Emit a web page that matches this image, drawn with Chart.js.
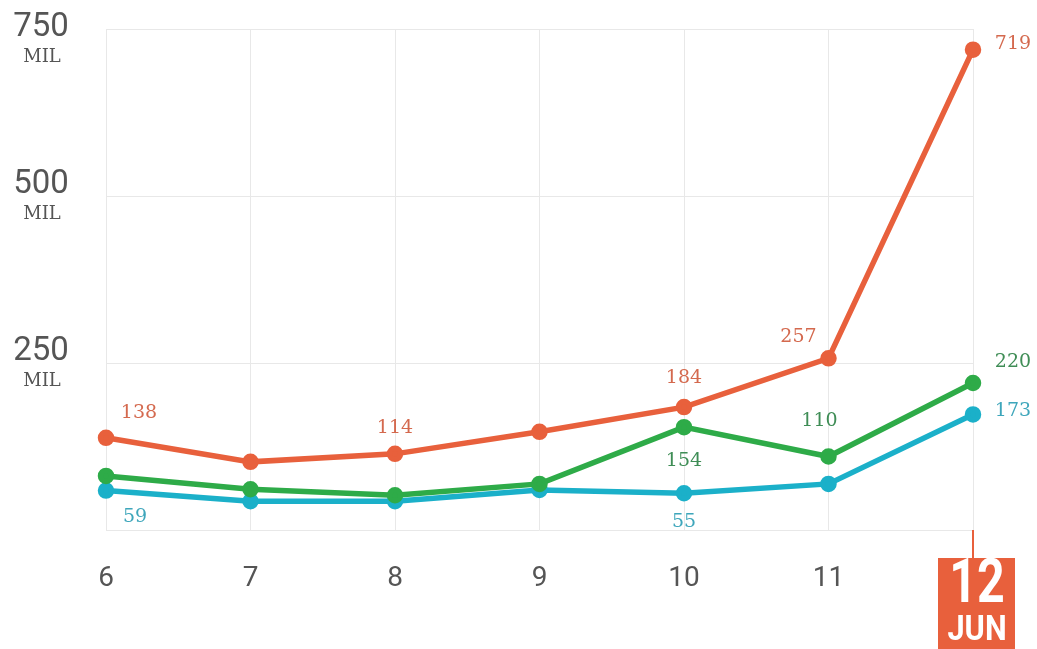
<!DOCTYPE html>
<html>
<head>
<meta charset="utf-8">
<script src="https://cdn.jsdelivr.net/npm/chart.js@4"></script>
<style>
  html, body { margin: 0; padding: 0; background: #fff; }
  #wrap { width: 1037px; height: 649px; }
</style>
</head>
<body>
<div id="wrap"><canvas id="chart" width="1037" height="649"></canvas></div>
<script>
// dias de junho
const days = ['6', '7', '8', '9', '10', '11', '12'];
const yTicks = [250, 500, 750];

// milhões
const seriesOrange = [138, 102, 114, 147, 184, 257, 719];
const seriesGreen = [81, 61, 52, 69, 154, 110, 220];
const seriesBlue = [59, 43, 43, 60, 55, 69, 173];

const colOrange = '#e8603c', colGreen = '#2eab48', colBlue = '#1bb0c9';
const txtOrange = '#d4694e', txtGreen = '#3f8d56', txtBlue = '#3ea6bb';

// rótulos visíveis: [dataset, índice, dx, dy]
const labelSpots = [
    [0, 0, 33, -25], [0, 2, 0, -26], [0, 4, 0, -29], [0, 5, -30, -21], [0, 6, 40, -6],
    [1, 4, 0, 34], [1, 5, -9, -35], [1, 6, 40, -21],
    [2, 0, 29, 26], [2, 4, 0, 29], [2, 6, 40, -3]
];
const labelColors = [txtOrange, txtGreen, txtBlue];

const overlay = {
    id: 'overlay',
    afterDatasetsDraw(chart) {
        const ctx = chart.ctx;
        const y = chart.scales.y, x = chart.scales.x;
        ctx.save();
        // valores
        ctx.font = '19px "DejaVu Serif"';
        ctx.textAlign = 'center';
        ctx.textBaseline = 'middle';
        labelSpots.forEach(([d, i, dx, dy]) => {
            const pt = chart.getDatasetMeta(d).data[i];
            ctx.fillStyle = labelColors[d];
            ctx.fillText(chart.data.datasets[d].data[i], pt.x + dx, pt.y + dy);
        });
        // eixo y
        ctx.fillStyle = '#555';
        yTicks.forEach(v => {
            const ny = Math.max(y.getPixelForValue(v) - 11, 28);
            ctx.font = '33px "Roboto"';
            ctx.fillText(v, 41, ny);
            ctx.font = '18px "DejaVu Serif"';
            ctx.fillText('MIL', 42, ny + 29);
        });
        // eixo x
        days.forEach((d, i) => {
            const px = x.getPixelForValue(i);
            if (i < days.length - 1) {
                ctx.fillStyle = '#555';
                ctx.font = '28px "Roboto"';
                ctx.fillText(d, px, 579);
            } else {
                ctx.strokeStyle = colOrange;
                ctx.lineWidth = 2;
                ctx.beginPath();
                ctx.moveTo(px, chart.chartArea.bottom);
                ctx.lineTo(px, 560);
                ctx.stroke();
                ctx.fillStyle = colOrange;
                ctx.fillRect(px - 35, 558, 77, 91);
                ctx.fillStyle = '#fff';
                ctx.save();
                ctx.translate(px + 4, 586);
                ctx.scale(0.78, 1);
                ctx.font = 'bold 62px "Roboto"';
                ctx.fillText(d, 0, 0);
                ctx.restore();
                ctx.save();
                ctx.translate(px + 4, 631);
                ctx.scale(0.88, 1);
                ctx.font = 'bold 35px "Roboto"';
                ctx.fillText('JUN', 0, 0);
                ctx.restore();
            }
        });
        ctx.restore();
    }
};

const mkSet = (data, color) => ({
    data: data,
    borderColor: color,
    backgroundColor: color,
    borderWidth: 5.5,
    pointRadius: 5.5,
    pointHoverRadius: 5.5,
    tension: 0
});

new Chart(document.getElementById('chart'), {
    type: 'line',
    data: {
        labels: days,
        datasets: [
            mkSet(seriesOrange, colOrange),
            mkSet(seriesGreen, colGreen),
            mkSet(seriesBlue, colBlue)
        ]
    },
    options: {
        responsive: false,
        animation: false,
        layout: {padding: {left: 106, right: 64, top: 29, bottom: 119}},
        plugins: {legend: {display: false}, tooltip: {enabled: false}},
        scales: {
            x: {
                offset: false,
                grid: {color: '#e8e8e8', drawTicks: false},
                border: {display: false},
                ticks: {display: false}
            },
            y: {
                min: 0, max: 750,
                ticks: {display: false, stepSize: 250},
                grid: {color: '#e8e8e8', drawTicks: false},
                border: {display: false}
            }
        }
    },
    plugins: [overlay]
});
</script>
</body>
</html>
